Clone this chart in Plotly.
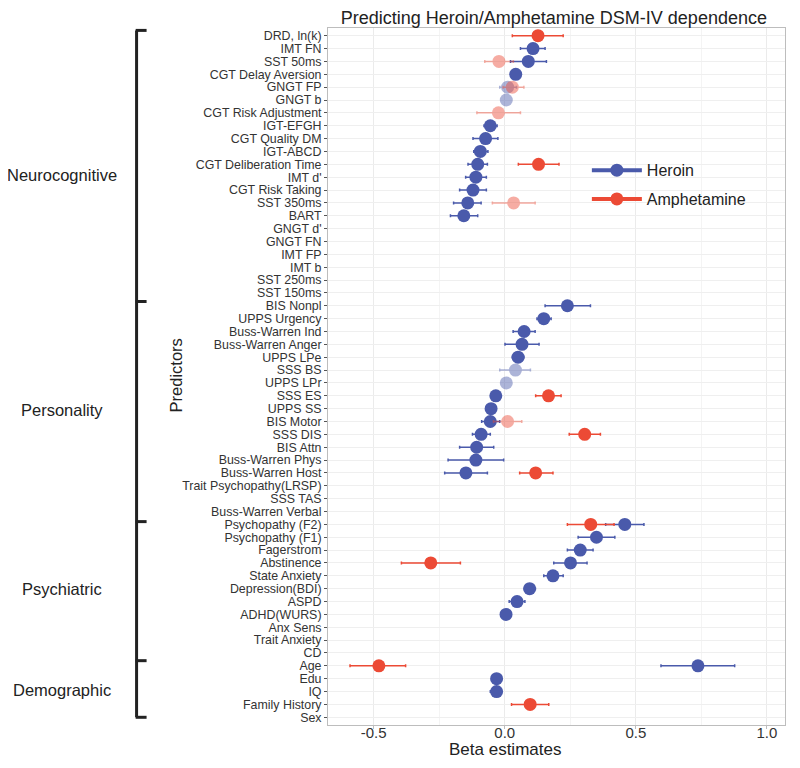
import plotly.graph_objects as go

# ---------------- data ----------------
predictors = [
    "DRD, ln(k)", "IMT FN", "SST 50ms", "CGT Delay Aversion", "GNGT FP", "GNGT b",
    "CGT Risk Adjustment", "IGT-EFGH", "CGT Quality DM", "IGT-ABCD",
    "CGT Deliberation Time", "IMT d'", "CGT Risk Taking", "SST 350ms", "BART",
    "GNGT d'", "GNGT FN", "IMT FP", "IMT b", "SST 250ms", "SST 150ms",
    "BIS Nonpl", "UPPS Urgency", "Buss-Warren Ind", "Buss-Warren Anger", "UPPS LPe",
    "SSS BS", "UPPS LPr", "SSS ES", "UPPS SS", "BIS Motor", "SSS DIS", "BIS Attn",
    "Buss-Warren Phys", "Buss-Warren Host", "Trait Psychopathy(LRSP)", "SSS TAS",
    "Buss-Warren Verbal",
    "Psychopathy (F2)", "Psychopathy (F1)", "Fagerstrom", "Abstinence", "State Anxiety",
    "Depression(BDI)", "ASPD", "ADHD(WURS)", "Anx Sens", "Trait Anxiety", "CD",
    "Age", "Edu", "IQ", "Family History", "Sex",
]

# Heroin: predictor, beta, lower CI, upper CI, significant flag
heroin_pred = ["IMT FN", "SST 50ms", "CGT Delay Aversion", "GNGT FP", "GNGT b",
               "IGT-EFGH", "CGT Quality DM", "IGT-ABCD", "CGT Deliberation Time",
               "IMT d'", "CGT Risk Taking", "SST 350ms", "BART",
               "BIS Nonpl", "UPPS Urgency", "Buss-Warren Ind", "Buss-Warren Anger",
               "UPPS LPe", "SSS BS", "UPPS LPr", "SSS ES", "UPPS SS", "BIS Motor",
               "SSS DIS", "BIS Attn", "Buss-Warren Phys", "Buss-Warren Host",
               "Psychopathy (F2)", "Psychopathy (F1)", "Fagerstrom", "Abstinence",
               "State Anxiety", "Depression(BDI)", "ASPD", "ADHD(WURS)",
               "Age", "Edu", "IQ"]
heroin_beta = [0.108, 0.090, 0.042, 0.011, 0.006,
               -0.055, -0.073, -0.093, -0.103,
               -0.110, -0.121, -0.141, -0.156,
               0.239, 0.149, 0.074, 0.066,
               0.051, 0.041, 0.006, -0.034, -0.052, -0.055,
               -0.090, -0.107, -0.110, -0.148,
               0.458, 0.350, 0.288, 0.251,
               0.184, 0.095, 0.047, 0.005,
               0.737, -0.031, -0.031]
heroin_lo = [0.060, 0.022, 0.025, -0.019, -0.004,
             -0.079, -0.121, -0.118, -0.140,
             -0.149, -0.172, -0.195, -0.207,
             0.154, 0.123, 0.032, 0.001,
             0.029, -0.019, -0.004, -0.046, -0.062, -0.088,
             -0.123, -0.172, -0.216, -0.229,
             0.385, 0.280, 0.239, 0.187,
             0.149, 0.075, 0.017, -0.003,
             0.596, -0.041, -0.055]
heroin_hi = [0.154, 0.159, 0.059, 0.045, 0.016,
             -0.029, -0.026, -0.064, -0.066,
             -0.070, -0.070, -0.090, -0.103,
             0.327, 0.177, 0.116, 0.131,
             0.073, 0.098, 0.016, -0.022, -0.042, -0.019,
             -0.055, -0.042, -0.004, -0.066,
             0.531, 0.420, 0.337, 0.314,
             0.223, 0.117, 0.077, 0.013,
             0.877, -0.021, -0.012]
heroin_sig = [1, 1, 1, 0, 0,
              1, 1, 1, 1,
              1, 1, 1, 1,
              1, 1, 1, 1,
              1, 0, 0, 1, 1, 1,
              1, 1, 1, 1,
              1, 1, 1, 1,
              1, 1, 1, 1,
              1, 1, 1]

amph_pred = ["DRD, ln(k)", "SST 50ms", "GNGT FP", "CGT Risk Adjustment",
             "CGT Deliberation Time", "SST 350ms", "SSS ES", "BIS Motor", "SSS DIS",
             "Buss-Warren Host", "Psychopathy (F2)", "Abstinence", "Age",
             "Family History"]
amph_beta = [0.127, -0.022, 0.029, -0.024, 0.129, 0.034, 0.167, 0.011, 0.305,
             0.118, 0.328, -0.282, -0.480, 0.097]
amph_lo = [0.029, -0.076, -0.006, -0.106, 0.052, -0.047, 0.118, -0.043, 0.246,
           0.057, 0.239, -0.394, -0.590, 0.026]
amph_hi = [0.223, 0.033, 0.073, 0.060, 0.207, 0.116, 0.215, 0.065, 0.365,
           0.184, 0.417, -0.169, -0.378, 0.168]
amph_sig = [1, 0, 0, 0, 1, 0, 1, 0, 1, 1, 1, 1, 1, 1]

groups = ["Neurocognitive", "Personality", "Psychiatric", "Demographic"]
x_ticks = [-0.5, 0.0, 0.5, 1.0]
x_ticklabels = ["-0.5", "0.0", "0.5", "1.0"]

# ---------------- style ----------------
# The page adds an 8px body margin, so the figure is 16px smaller than the window.
W, H = 784, 752
OFF = 8
# plot area in page pixels
PL, PR, PT, PB = 328.3, 785.0, 28.3, 725.0
BLUE = "#4A5AAB"
RED = "#EC4A35"
FONT = "Liberation Sans, Arial, sans-serif"
DARK = "#222222"


def pxx(x):
    return (x - PL) / (PR - PL)


def pxy(y):
    return (PB - y) / (PB - PT)


fig = go.Figure()

# invisible trace registering all categories
fig.add_trace(go.Scatter(x=[None] * len(predictors), y=predictors, mode="markers",
                         showlegend=False, hoverinfo="skip"))


def add_series(pred, beta, lo, hi, sig, color, name):
    for flag, op in ((0, 0.45), (1, 1.0)):
        idx = [i for i in range(len(pred)) if sig[i] == flag]
        if not idx:
            continue
        xs = [beta[i] for i in idx]
        ys = [pred[i] for i in idx]
        ep = [hi[i] - beta[i] for i in idx]
        em = [beta[i] - lo[i] for i in idx]
        fig.add_trace(go.Scatter(
            x=xs, y=ys, mode="markers", name=name, showlegend=False, opacity=op,
            marker=dict(color=color, size=13, line=dict(width=0)),
            error_x=dict(type="data", array=ep, arrayminus=em, color=color,
                         thickness=1.5, width=1.5),
        ))


add_series(heroin_pred, heroin_beta, heroin_lo, heroin_hi, heroin_sig, BLUE, "Heroin")
add_series(amph_pred, amph_beta, amph_lo, amph_hi, amph_sig, RED, "Amphetamine")

# legend entries
for name, color, grp in (("Heroin", BLUE, "g1"), ("Amphetamine", RED, "g2")):
    fig.add_trace(go.Scatter(x=[None], y=[None], mode="lines+markers", name=name,
                             legendgroup=grp,
                             line=dict(color=color, width=4),
                             marker=dict(color=color, size=13)))

# group labels
group_y = [175, 410, 589, 690]
annotations = []
for g, yy in zip(groups, group_y):
    annotations.append(dict(text=g, x=pxx(62), y=pxy(yy), xref="paper", yref="paper",
                            xanchor="center", yanchor="middle", showarrow=False,
                            font=dict(family=FONT, size=16.5, color=DARK)))
annotations.append(dict(text="Predictors", x=pxx(176), y=pxy(376), xref="paper",
                        yref="paper", textangle=-90, xanchor="center", yanchor="middle",
                        showarrow=False, font=dict(family=FONT, size=16.5, color=DARK)))
annotations.append(dict(text="Beta estimates", x=pxx(505), y=pxy(749.5), xref="paper",
                        yref="paper", xanchor="center", yanchor="middle",
                        showarrow=False, font=dict(family=FONT, size=17, color=DARK)))

# bracket
shapes = []
bx0, bx1 = pxx(137), pxx(147)
line_style = dict(color=DARK, width=3)
shapes.append(dict(type="line", xref="paper", yref="paper", x0=bx0, x1=bx0,
                   y0=pxy(30.7), y1=pxy(717.3), line=line_style))
for yy in (30.7, 301.7, 521.7, 660.7, 717.3):
    shapes.append(dict(type="line", xref="paper", yref="paper", x0=bx0 - 0.002, x1=bx1,
                       y0=pxy(yy), y1=pxy(yy), line=line_style))

fig.update_layout(
    width=W, height=H,
    margin=dict(l=PL - OFF, r=W - (PR - OFF), t=PT - OFF, b=H - (PB - OFF),
                autoexpand=False),
    paper_bgcolor="white", plot_bgcolor="white",
    font=dict(family=FONT, color="#333333"),
    title=dict(text="Predicting Heroin/Amphetamine DSM-IV dependence",
               x=pxx(554), xref="paper", y=1 - 3 / H, yref="container",
               xanchor="center", yanchor="top",
               font=dict(family=FONT, size=18, color=DARK)),
    showlegend=True,
    legend=dict(x=pxx(587), y=pxy(153.5), xanchor="left", yanchor="top",
                bgcolor="rgba(0,0,0,0)", font=dict(family=FONT, size=16, color=DARK),
                tracegroupgap=5, itemwidth=50),
    annotations=annotations,
    shapes=shapes,
)

fig.update_xaxes(
    range=[-0.674, 1.069], tickvals=x_ticks, ticktext=x_ticklabels,
    showgrid=True, gridcolor="#EBEBEB", gridwidth=1,
    minor=dict(showgrid=True, dtick=0.25, tick0=0, gridcolor="#F4F4F4", gridwidth=0.6),
    zeroline=False, showline=True, mirror=True, linecolor="#BDBDBD", linewidth=1,
    ticks="outside", ticklen=3, tickcolor="#BDBDBD", ticklabelstandoff=-9,
    tickfont=dict(family=FONT, size=15, color="#333333"),
)
fig.update_yaxes(
    type="category", categoryorder="array", categoryarray=predictors,
    tickmode="array", tickvals=predictors, ticktext=predictors,
    range=[len(predictors) - 1 + 0.6, -0.6],
    showgrid=True, gridcolor="#EFEFEF", gridwidth=0.8,
    zeroline=False, showline=True, mirror=True, linecolor="#BDBDBD", linewidth=1,
    ticks="outside", ticklen=3, tickcolor="#555555",
    tickfont=dict(family=FONT, size=12.4, color="#333333"),
)

fig.write_html("out.html")
